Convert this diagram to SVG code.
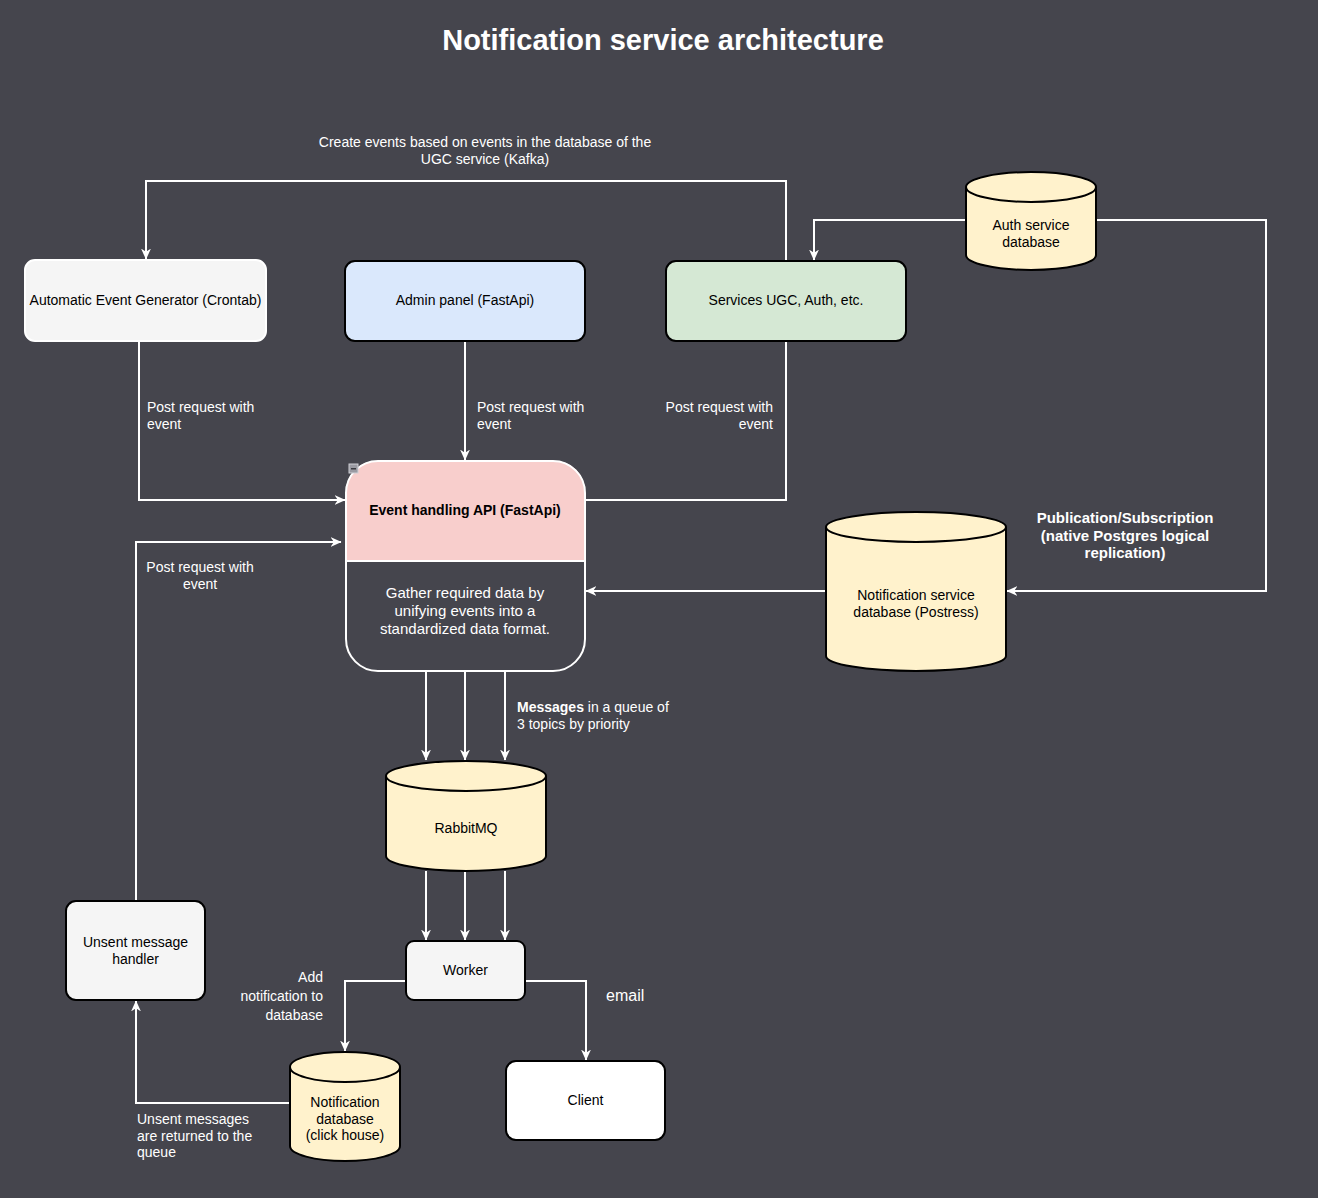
<svg xmlns="http://www.w3.org/2000/svg" width="1318" height="1198" viewBox="0 0 1318 1198">
<defs>
<style>
text{font-family:"Liberation Sans",Arial,Helvetica,sans-serif;}
.t{font-size:14px;fill:#000;}
.lbl{font-size:14px;fill:#fff;}
.b{font-weight:bold;}
.edge{fill:none;stroke:#fff;stroke-width:2;}
.box{stroke:#000;stroke-width:2;}
.cyl{fill:#fff2cc;stroke:#000;stroke-width:2;}
.arc{fill:none;stroke:#000;stroke-width:2;}
</style>
<marker id="ah" viewBox="0 0 10 10" refX="9.5" refY="5" markerWidth="11" markerHeight="11" markerUnits="userSpaceOnUse" orient="auto">
<path d="M0,0.5 L10,5 L0,9.5 L3,5 Z" fill="#fff"/>
</marker>
</defs>
<rect x="0" y="0" width="1318" height="1198" fill="#45454d"/>
<text x="663" y="50" text-anchor="middle" font-weight="bold" fill="#fff" style="font-size:29px">Notification service architecture</text>

<g id="connectors">
<path class="edge" d="M786,261 V181 H146 V259" marker-end="url(#ah)"/>
<path class="edge" d="M966,220 H814 V260" marker-end="url(#ah)"/>
<path class="edge" d="M1096,220 H1266 V591 H1007" marker-end="url(#ah)"/>
<path class="edge" d="M826,591 H586" marker-end="url(#ah)"/>
<path class="edge" d="M139,341 V500 H345" marker-end="url(#ah)"/>
<path class="edge" d="M465,341 V460" marker-end="url(#ah)"/>
<path class="edge" d="M786,341 V500 H585"/>
<path class="edge" d="M136,901 V542 H341" marker-end="url(#ah)"/>
<path class="edge" d="M426,671 V760" marker-end="url(#ah)"/>
<path class="edge" d="M465,671 V760" marker-end="url(#ah)"/>
<path class="edge" d="M505,671 V760" marker-end="url(#ah)"/>
<path class="edge" d="M426,871 V940" marker-end="url(#ah)"/>
<path class="edge" d="M465,871 V940" marker-end="url(#ah)"/>
<path class="edge" d="M505,871 V940" marker-end="url(#ah)"/>
<path class="edge" d="M406,981 H345 V1051" marker-end="url(#ah)"/>
<path class="edge" d="M525,981 H586 V1060" marker-end="url(#ah)"/>
<path class="edge" d="M290,1103 H136 V1001" marker-end="url(#ah)"/>
<text class="lbl" text-anchor="middle"><tspan x="485" y="147">Create events based on events in the database of the</tspan><tspan x="485" y="164">UGC service (Kafka)</tspan></text>
<text class="lbl b" text-anchor="middle" style="font-size:15px"><tspan x="1125" y="523">Publication/Subscription</tspan><tspan x="1125" y="541">(native Postgres logical</tspan><tspan x="1125" y="558">replication)</tspan></text>
<text class="lbl"><tspan x="147" y="412">Post request with</tspan><tspan x="147" y="429">event</tspan></text>
<text class="lbl"><tspan x="477" y="412">Post request with</tspan><tspan x="477" y="429">event</tspan></text>
<text class="lbl" text-anchor="end"><tspan x="773" y="412">Post request with</tspan><tspan x="773" y="429">event</tspan></text>
<text class="lbl" text-anchor="middle"><tspan x="200" y="572">Post request with</tspan><tspan x="200" y="589">event</tspan></text>
<text class="lbl"><tspan x="517" y="712"><tspan font-weight="bold">Messages</tspan> in a queue of</tspan><tspan x="517" y="729">3 topics by priority</tspan></text>
<text class="lbl" text-anchor="end"><tspan x="323" y="982">Add</tspan><tspan x="323" y="1001">notification to</tspan><tspan x="323" y="1020">database</tspan></text>
<text class="lbl" x="606" y="1001" style="font-size:16px">email</text>
<text class="lbl"><tspan x="137" y="1124">Unsent messages</tspan><tspan x="137" y="1141">are returned to the</tspan><tspan x="137" y="1157">queue</tspan></text>
</g>

<g id="auto-gen">
<rect x="25" y="260" width="241" height="81" rx="10" fill="#f5f5f5" stroke="#fff" stroke-width="2"/>
<text class="t" x="145.5" y="305" text-anchor="middle">Automatic Event Generator (Crontab)</text>
</g>
<g id="admin-panel">
<rect class="box" x="345" y="261" width="240" height="80" rx="10" fill="#dae8fc"/>
<text class="t" x="465" y="305" text-anchor="middle">Admin panel (FastApi)</text>
</g>
<g id="services">
<rect class="box" x="666" y="261" width="240" height="80" rx="10" fill="#d5e8d4"/>
<text class="t" x="786" y="305" text-anchor="middle">Services UGC, Auth, etc.</text>
</g>
<g id="auth-db">
<path class="cyl" d="M966,187 A65,15 0 0 1 1096,187 V255 A65,15 0 0 1 966,255 Z"/>
<path class="arc" d="M966,187 A65,15 0 0 0 1096,187"/>
<text class="t" text-anchor="middle"><tspan x="1031" y="230">Auth service</tspan><tspan x="1031" y="247">database</tspan></text>
</g>
<g id="event-api">
<path d="M346,561 V491 A30,30 0 0 1 376,461 H555 A30,30 0 0 1 585,491 V561 Z" fill="#f8cecc"/>
<rect x="346" y="461" width="239" height="210" rx="32" fill="none" stroke="#fff" stroke-width="2"/>
<line x1="346" y1="561" x2="585" y2="561" stroke="#fff" stroke-width="2"/>
<text class="t b" x="465" y="515" text-anchor="middle">Event handling API (FastApi)</text>
<text text-anchor="middle" fill="#fff" style="font-size:15px"><tspan x="465" y="598">Gather required data by</tspan><tspan x="465" y="616">unifying events into a</tspan><tspan x="465" y="634">standardized data format.</tspan></text>
<rect x="349" y="464" width="9" height="9" fill="#9a9aa2" stroke="#d0d0d6" stroke-width="1"/>
<rect x="351" y="468" width="5" height="1.5" fill="#3a3a40"/>
</g>
<g id="notif-service-db">
<path class="cyl" d="M826,527 A90,15 0 0 1 1006,527 V656 A90,15 0 0 1 826,656 Z"/>
<path class="arc" d="M826,527 A90,15 0 0 0 1006,527"/>
<text class="t" text-anchor="middle"><tspan x="916" y="600">Notification service</tspan><tspan x="916" y="617">database (Postress)</tspan></text>
</g>
<g id="rabbitmq">
<path class="cyl" d="M386,776 A80,15 0 0 1 546,776 V856 A80,15 0 0 1 386,856 Z"/>
<path class="arc" d="M386,776 A80,15 0 0 0 546,776"/>
<text class="t" x="466" y="833" text-anchor="middle">RabbitMQ</text>
</g>
<g id="worker">
<rect class="box" x="406" y="941" width="119" height="59" rx="8" fill="#f5f5f5"/>
<text class="t" x="465.5" y="975" text-anchor="middle">Worker</text>
</g>
<g id="unsent-handler">
<rect class="box" x="66" y="901" width="139" height="99" rx="10" fill="#f5f5f5"/>
<text class="t" text-anchor="middle"><tspan x="135.5" y="947">Unsent message</tspan><tspan x="135.5" y="964">handler</tspan></text>
</g>
<g id="notif-db">
<path class="cyl" d="M290,1067 A55,15 0 0 1 400,1067 V1146 A55,15 0 0 1 290,1146 Z"/>
<path class="arc" d="M290,1067 A55,15 0 0 0 400,1067"/>
<text class="t" text-anchor="middle"><tspan x="345" y="1107">Notification</tspan><tspan x="345" y="1124">database</tspan><tspan x="345" y="1140">(click house)</tspan></text>
</g>
<g id="client">
<rect class="box" x="506" y="1061" width="159" height="79" rx="10" fill="#fff"/>
<text class="t" x="585.5" y="1105" text-anchor="middle">Client</text>
</g>
</svg>
